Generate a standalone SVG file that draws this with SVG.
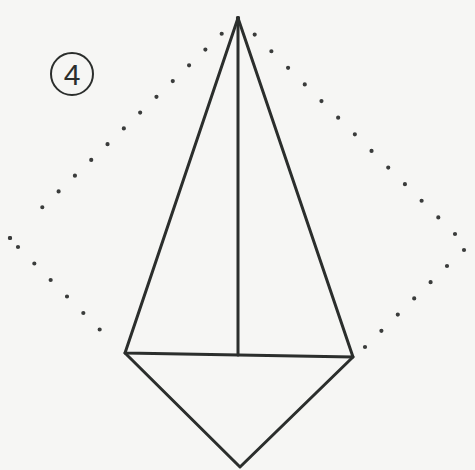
<svg xmlns="http://www.w3.org/2000/svg" width="475" height="470" viewBox="0 0 475 470">
<style>
.ln{fill:none;stroke:#2b2e2c;stroke-width:3;stroke-linejoin:round;stroke-linecap:round}
.dot{fill:none;stroke:#3a3c3b;stroke-width:4.2;stroke-linecap:round;stroke-dasharray:0 1}
</style>
<rect width="475" height="470" fill="#f6f6f4"/>
<g id="step-number">
<circle cx="72" cy="74" r="21" fill="none" stroke="#2b2e2c" stroke-width="2"/>
<text x="72" y="85" font-family="Liberation Sans, Arial, sans-serif" font-size="30" text-anchor="middle" fill="#2b2e2c">4</text>
</g>
<g id="dotted-outline">
<path class="dot" d="M238,18 L26,223" pathLength="13"/>
<path class="dot" d="M10,238 L10,238" />
<circle cx="10" cy="238" r="2.1" fill="#3a3c3b"/>
<path class="dot" d="M18,247 L116,346" pathLength="6"/>
<path class="dot" d="M238,18 L455,234" pathLength="13"/>
<circle cx="464" cy="250" r="2.1" fill="#3a3c3b"/>
<path class="dot" d="M447,266 L365,347" pathLength="5"/>
</g>
<g id="kite">
<path class="ln" d="M238,18 L125,353 L353,357 Z"/>
<path class="ln" d="M238,18 L238,355"/>
<path class="ln" d="M125,353 L240,467 L353,357"/>
</g>
</svg>
